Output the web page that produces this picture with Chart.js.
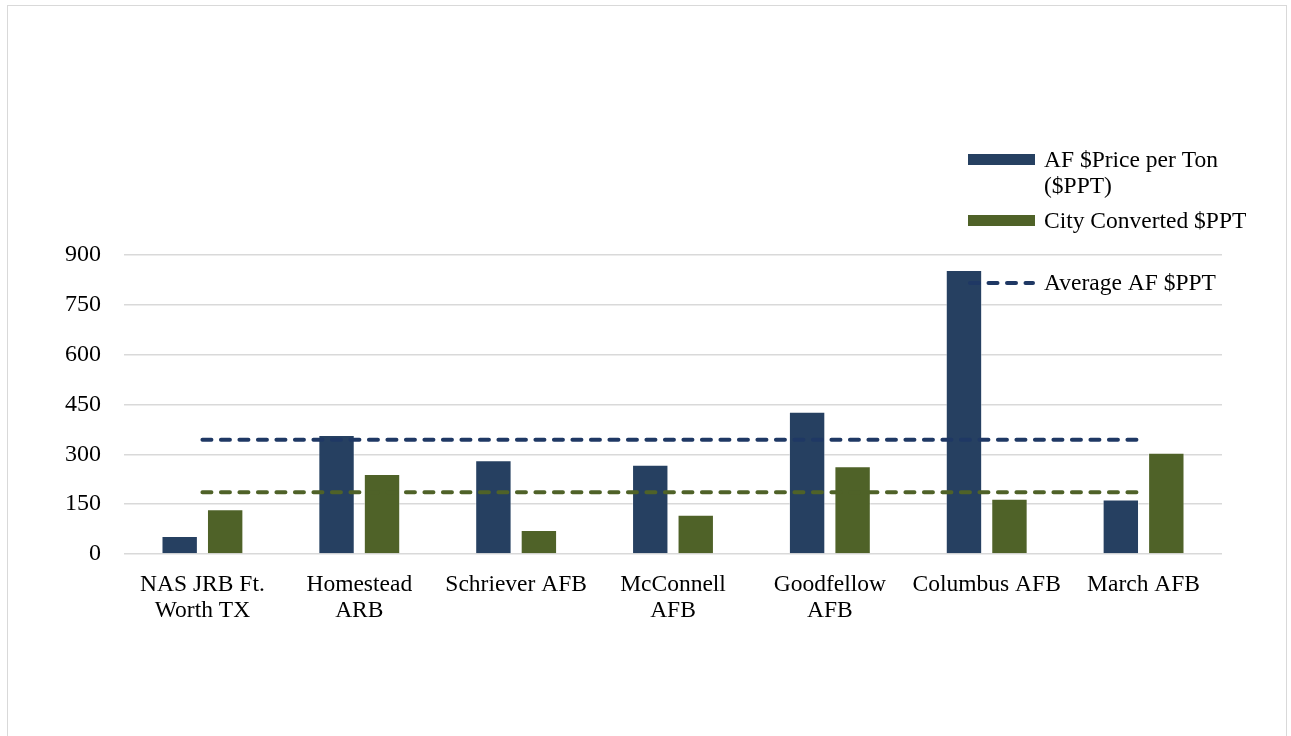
<!DOCTYPE html>
<html lang="en">
<head>
<meta charset="UTF-8">
<title>AF $PPT vs City Converted $PPT</title>
<script src="https://cdn.jsdelivr.net/npm/chart.js"></script>
<style>
    html, body { margin: 0; padding: 0; background: #fff; }
    body { width: 1291px; height: 736px; overflow: hidden; position: relative; }
    .frame {
        position: absolute; left: 7px; top: 5px; width: 1280px; height: 760px;
        border: 1px solid #d9d9d9; box-sizing: border-box;
    }
    #wrap { position: absolute; left: 0; top: 0; width: 1291px; height: 736px; }
</style>
</head>
<body>
<div class="frame"></div>
<div id="wrap"><canvas id="ppt" width="1291" height="736"></canvas></div>
<script>
const categories = [
    ['NAS JRB Ft.', 'Worth TX'],
    ['Homestead', 'ARB'],
    'Schriever AFB',
    ['McConnell', 'AFB'],
    ['Goodfellow', 'AFB'],
    'Columbus AFB',
    'March AFB'
];
const afPPT   = [54, 358, 282, 269, 428, 855, 164];
const cityPPT = [135, 241, 72, 118, 264, 166, 305];
const avgAF   = [344, 344, 344, 344, 344, 344, 344];
const avgCity = [186, 186, 186, 186, 186, 186, 186];
const yTicks  = [0, 150, 300, 450, 600, 750, 900];

const BLUE = '#264061';
const GREEN = '#4f6228';
const FONT = '"Liberation Serif", "Times New Roman", serif';

// legend drawn on top of the plot, like the original
const overlayLegend = {
    id: 'overlayLegend',
    afterDatasetsDraw(chart) {
        const ctx = chart.ctx;
        const ds = chart.data.datasets;
        const x0 = 968, sw = 67, tx = 1044;
        ctx.save();
        ctx.font = '23.5px ' + FONT;
        ctx.textBaseline = 'middle';
        ctx.textAlign = 'left';

        // bars
        ctx.fillStyle = ds[0].backgroundColor;
        ctx.fillRect(x0, 154, sw, 11);
        ctx.fillStyle = '#000';
        ctx.fillText('AF $Price per Ton', tx, 161);
        ctx.fillText('($PPT)', tx, 187);

        ctx.fillStyle = ds[1].backgroundColor;
        ctx.fillRect(x0, 215, sw, 11);
        ctx.fillStyle = '#000';
        ctx.fillText(ds[1].label, tx, 222);

        // dashed average line
        ctx.strokeStyle = ds[2].borderColor;
        ctx.lineWidth = 4;
        ctx.lineCap = 'round';
        ctx.setLineDash([9, 9.5]);
        ctx.beginPath();
        ctx.moveTo(x0 + 2, 283);
        ctx.lineTo(x0 + sw - 2, 283);
        ctx.stroke();
        ctx.setLineDash([]);
        ctx.fillText(ds[2].label, tx, 284);
        ctx.restore();
    }
};

new Chart(document.getElementById('ppt'), {
    type: 'bar',
    data: {
        labels: categories,
        datasets: [
            {
                label: 'AF $Price per Ton ($PPT)',
                data: afPPT,
                backgroundColor: BLUE,
                borderColor: 'rgba(255,255,255,0.45)',
                borderWidth: 1,
                categoryPercentage: 0.58,
                barPercentage: 0.8,
                order: 2
            },
            {
                label: 'City Converted $PPT',
                data: cityPPT,
                backgroundColor: GREEN,
                borderColor: 'rgba(255,255,255,0.45)',
                borderWidth: 1,
                categoryPercentage: 0.58,
                barPercentage: 0.8,
                order: 2
            },
            {
                type: 'line',
                label: 'Average AF $PPT',
                data: avgAF,
                borderColor: '#1f3864',
                borderWidth: 4,
                borderDash: [9, 9.5],
                borderCapStyle: 'round',
                pointRadius: 0,
                fill: false,
                order: 1
            },
            {
                type: 'line',
                label: 'Average City $PPT',
                data: avgCity,
                borderColor: '#4f6228',
                borderWidth: 4,
                borderDash: [9, 9.5],
                borderCapStyle: 'round',
                pointRadius: 0,
                fill: false,
                order: 1
            }
        ]
    },
    options: {
        responsive: false,
        animation: false,
        devicePixelRatio: 1,
        layout: { padding: { top: 255, right: 69, bottom: 0, left: 0 } },
        plugins: {
            legend: { display: false },
            tooltip: { enabled: false }
        },
        scales: {
            x: {
                grid: { display: false, drawTicks: false },
                border: { display: false },
                ticks: {
                    color: '#000',
                    font: { family: FONT, size: 23.5, lineHeight: 1.1 },
                    padding: 18,
                    maxRotation: 0,
                    autoSkip: false
                },
                afterFit(scale) { scale.height = 182; }
            },
            y: {
                min: 0,
                max: 900,
                afterBuildTicks(scale) { scale.ticks = yTicks.map(v => ({ value: v })); },
                grid: { color: '#d9d9d9', lineWidth: 1.5, drawTicks: false },
                border: { display: false },
                ticks: {
                    color: '#000',
                    font: { family: FONT, size: 24 },
                    padding: 23
                },
                afterFit(scale) { scale.width = 124; }
            }
        }
    },
    plugins: [overlayLegend]
});
</script>
</body>
</html>
